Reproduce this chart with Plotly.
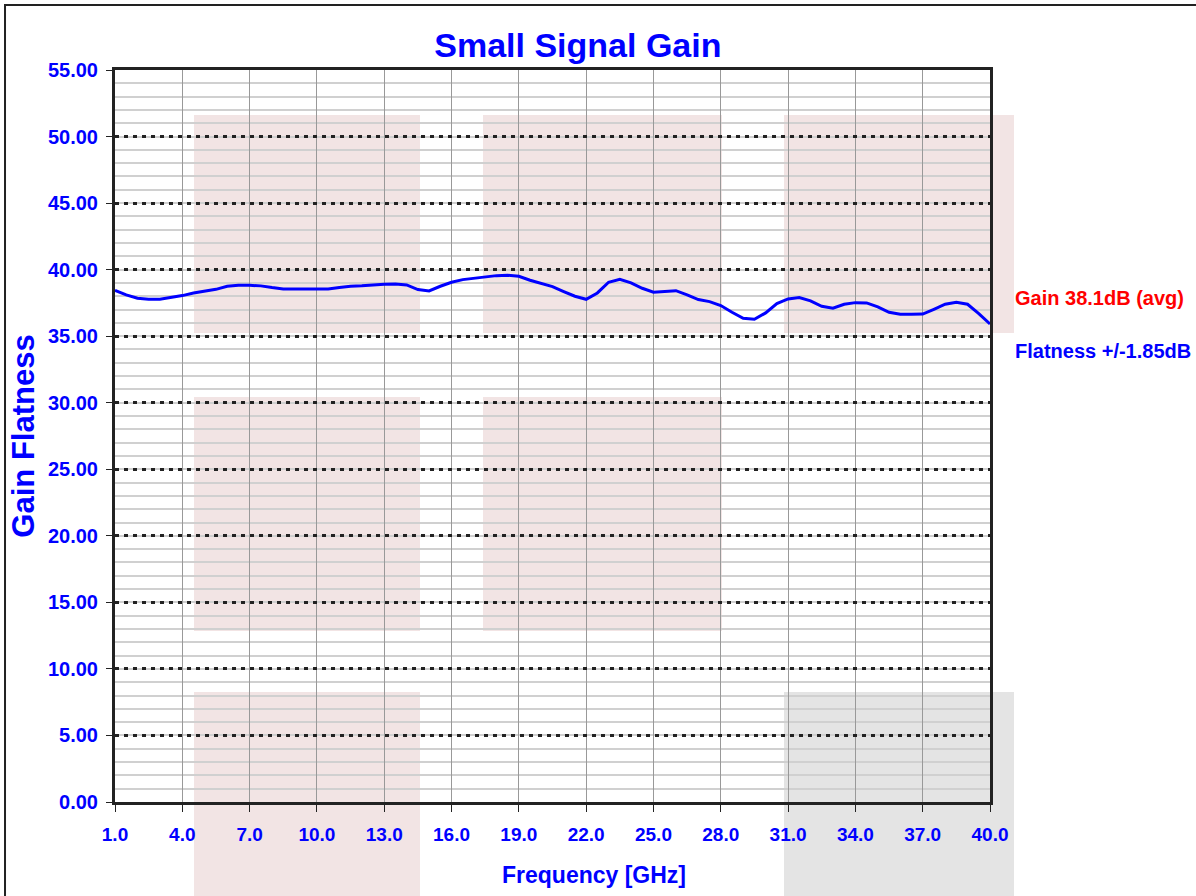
import plotly.graph_objects as go

# ---- data ----
freq_ghz = [1.0, 1.5, 2.0, 2.5, 3.0, 3.5, 4.0, 4.5, 5.0, 5.5, 6.0, 6.5, 7.0, 7.5,
            8.0, 8.5, 9.0, 9.5, 10.0, 10.5, 11.0, 11.5, 12.0, 12.5, 13.0, 13.5,
            14.0, 14.5, 15.0, 15.5, 16.0, 16.5, 17.0, 17.5, 18.0, 18.5, 19.0,
            19.5, 20.0, 20.5, 21.0, 21.5, 22.0, 22.5, 23.0, 23.5, 24.0, 24.5,
            25.0, 25.5, 26.0, 26.5, 27.0, 27.5, 28.0, 28.5, 29.0, 29.5, 30.0,
            30.5, 31.0, 31.5, 32.0, 32.5, 33.0, 33.5, 34.0, 34.5, 35.0, 35.5,
            36.0, 36.5, 37.0, 37.5, 38.0, 38.5, 39.0, 39.5, 40.0]
gain_db = [38.45, 38.10, 37.85, 37.78, 37.78, 37.90, 38.05, 38.25, 38.40, 38.52,
           38.75, 38.82, 38.82, 38.78, 38.65, 38.55, 38.55, 38.55, 38.55, 38.55,
           38.65, 38.75, 38.78, 38.85, 38.90, 38.92, 38.85, 38.50, 38.40, 38.75,
           39.05, 39.25, 39.35, 39.45, 39.55, 39.58, 39.50, 39.20, 38.95, 38.72,
           38.35, 38.00, 37.77, 38.25, 39.05, 39.28, 39.00, 38.60, 38.30, 38.35,
           38.42, 38.10, 37.75, 37.60, 37.30, 36.80, 36.35, 36.27, 36.75, 37.45,
           37.80, 37.90, 37.65, 37.25, 37.10, 37.40, 37.52, 37.50, 37.20, 36.80,
           36.65, 36.64, 36.66, 37.02, 37.40, 37.55, 37.40, 36.70, 35.92]

x_ticks = [1.0, 4.0, 7.0, 10.0, 13.0, 16.0, 19.0, 22.0, 25.0, 28.0, 31.0, 34.0, 37.0, 40.0]
y_ticks = [0, 5, 10, 15, 20, 25, 30, 35, 40, 45, 50, 55]

title_text = "Small Signal Gain"
x_title = "Frequency [GHz]"
y_title = "Gain Flatness"
note_gain = "Gain 38.1dB (avg)"
note_flat = "Flatness +/-1.85dB"

FONT = "Liberation Sans, Arial, Helvetica, sans-serif"
BLUE = "#0000ff"

fig = go.Figure()
fig.add_trace(go.Scatter(x=freq_ghz, y=gain_db, mode="lines",
                         line=dict(color=BLUE, width=3), showlegend=False,
                         hoverinfo="x+y"))

# background watermark blocks (paper coordinates)
PINK = "#f2e4e4"
GRAY = "#e4e4e4"
blocks = [
    (0.0903, 0.3486, 0.6407, 0.9385, PINK),
    (0.0903, 0.3486, 0.2336, 0.5533, PINK),
    (0.4206, 0.6937, 0.6407, 0.9385, PINK),
    (0.4206, 0.6937, 0.2336, 0.5533, PINK),
    (0.7646, 1.0274, 0.6407, 0.9385, PINK),
    (0.0903, 0.3486, -0.20, 0.1503, PINK),
    (0.7646, 1.0274, -0.20, 0.1503, GRAY),
]
shapes = []
for x0, x1, y0, y1, c in blocks:
    shapes.append(dict(type="rect", xref="paper", yref="paper", x0=x0, x1=x1,
                       y0=y0, y1=y1, fillcolor=c, line=dict(width=0), layer="below"))
# outer frame
shapes.append(dict(type="rect", xref="paper", yref="paper", x0=-0.1257, x1=1.4,
                   y0=-0.4, y1=1.0888, fillcolor="rgba(0,0,0,0)",
                   line=dict(color="#222222", width=2), layer="below"))

fig.update_layout(
    width=1196, height=896,
    margin=dict(l=115, r=206, t=70, b=94),
    paper_bgcolor="white", plot_bgcolor="rgba(0,0,0,0)",
    shapes=shapes,
    title=dict(text=title_text, x=0.529, xref="paper", xanchor="center",
               y=1 - 45 / 896, yref="container", yanchor="middle",
               font=dict(family=FONT, size=34, color=BLUE, weight="bold")),
    font=dict(family=FONT, color=BLUE),
    annotations=[
        dict(text=note_gain, xref="paper", yref="paper", x=1.0263, y=0.6885,
             xanchor="left", yanchor="middle", showarrow=False,
             font=dict(family=FONT, size=20, color="#ff0000", weight="bold")),
        dict(text=note_flat, xref="paper", yref="paper", x=1.0263, y=0.6161,
             xanchor="left", yanchor="middle", showarrow=False,
             font=dict(family=FONT, size=20, color=BLUE, weight="bold")),
        dict(text=x_title, xref="paper", yref="paper", x=0.547, y=-0.0997,
             xanchor="center", yanchor="middle", showarrow=False,
             font=dict(family=FONT, size=23, color=BLUE, weight="bold")),
    ],
)

fig.update_xaxes(
    range=[1, 40], tickmode="array", tickvals=x_ticks,
    ticktext=[f"{v:.1f}" for v in x_ticks],
    showgrid=True, gridcolor="#999999", gridwidth=1,
    showline=True, linecolor="#222222", linewidth=3, mirror=True,
    ticks="outside", ticklen=7, tickcolor="#222222", tickwidth=1,
    ticklabelstandoff=6,
    tickfont=dict(family=FONT, size=19, color=BLUE, weight="bold"),
    zeroline=False,
)
fig.update_yaxes(
    range=[0, 55], tickmode="array", tickvals=y_ticks,
    ticktext=[f"{v:.2f}" for v in y_ticks],
    showgrid=True, gridcolor="#222222", gridwidth=3, griddash="4px,5px",
    minor=dict(dtick=1, showgrid=True, gridcolor="#d0d0d0", gridwidth=1.5,
               griddash="solid"),
    showline=True, linecolor="#222222", linewidth=3, mirror=True,
    ticks="outside", ticklen=6, tickcolor="#222222", tickwidth=1,
    ticklabelstandoff=4,
    tickfont=dict(family=FONT, size=20, color=BLUE, weight="bold"),
    title=dict(text=y_title, standoff=5,
               font=dict(family=FONT, size=31, color=BLUE, weight="bold")),
    zeroline=False,
)

fig.write_html("out.html", config={"displayModeBar": False},
               post_script="document.body.style.margin='0';document.body.style.overflow='hidden';")
